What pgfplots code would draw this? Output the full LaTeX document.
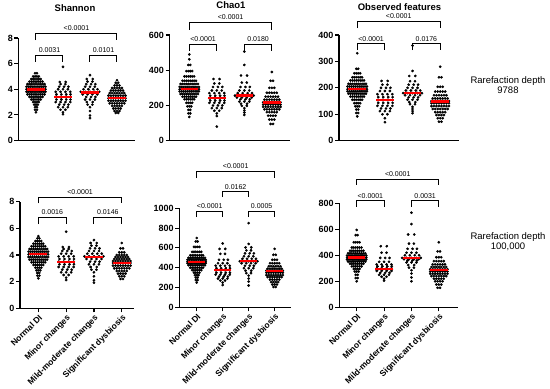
\documentclass[border=0pt]{standalone}
\usepackage{fontspec}
\setmainfont{Liberation Sans}
\usepackage{pgfplots}
\pgfplotsset{compat=1.18}
\tikzset{plab/.style={font=\fontsize{7}{8}\selectfont, anchor=south, inner sep=2.5pt}}
\pgfplotsset{
  panel/.style={
    scale only axis, axis lines=left, axis line style={-, line width=1.1pt, black},
    tick style={black, line width=1.1pt}, major tick length=4pt, tick align=outside,
    ymin=0, clip=false, clip marker paths=true, xtick=\empty,
    yticklabel style={font=\bfseries\fontsize{9}{10}\selectfont, inner sep=1.5pt},
    /pgf/number format/assume math mode=true,
    /pgf/number format/1000 sep={},
  },
  bottomrow/.style={
    xtick={0,1,2,3},
    xticklabels={Normal DI, Minor changes, Mild-moderate changes, Significant dysbiosis},
    xticklabel style={rotate=45, anchor=north east, inner sep=1pt, font=\bfseries\fontsize{8.5}{10}\selectfont},
  },
  dots/.style={only marks, mark=*, mark size=1.15pt, mark options={draw=none, fill=black}},
  med/.style={red, line width=2.3pt},
  brk/.style={black, line width=1pt},
}
\begin{document}
\begin{tikzpicture}
\path[use as bounding box] (0,0) rectangle (550pt,389pt);
% titles
\node[anchor=base, font=\bfseries\fontsize{9.5}{11}\selectfont] at (75pt,377.5pt) {Shannon};
\node[anchor=base, font=\bfseries\fontsize{9.5}{11}\selectfont] at (231pt,380.7pt) {Chao1};
\node[anchor=base, font=\bfseries\fontsize{9.5}{11}\selectfont] at (399.5pt,378.3pt) {Observed features};
\node[anchor=base, font=\fontsize{9.5}{11}\selectfont] at (508pt,305.5pt) {Rarefaction depth};
\node[anchor=base, font=\fontsize{9.5}{11}\selectfont] at (508pt,295pt) {9788};
\node[anchor=base, font=\fontsize{9.5}{11}\selectfont] at (508pt,149pt) {Rarefaction depth};
\node[anchor=base, font=\fontsize{9.5}{11}\selectfont] at (508pt,139pt) {100,000};

%================ T1 Shannon top
\begin{axis}[panel, at={(18.5pt,248.5pt)}, anchor=south west, width=116.5pt, height=102.5pt,
  xmin=-0.648, xmax=3.667, ymax=8, ytick={0,2,4,6,8}]
\addplot[dots] coordinates {
(0,2.2)
(-0.035,2.4) (0.035,2.4)
(-0.035,2.6) (0.035,2.6)
(-0.07,2.8) (0,2.8) (0.07,2.8)
(-0.105,3) (-0.035,3) (0.035,3) (0.105,3)
(-0.175,3.2) (-0.105,3.2) (-0.035,3.2) (0.035,3.2) (0.105,3.2) (0.175,3.2)
(-0.245,3.4) (-0.175,3.4) (-0.105,3.4) (-0.035,3.4) (0.035,3.4) (0.105,3.4) (0.175,3.4) (0.245,3.4)
(-0.315,3.6) (-0.245,3.6) (-0.175,3.6) (-0.105,3.6) (-0.035,3.6) (0.035,3.6) (0.105,3.6) (0.175,3.6) (0.245,3.6) (0.315,3.6)
(-0.35,3.8) (-0.28,3.8) (-0.21,3.8) (-0.14,3.8) (-0.07,3.8) (0,3.8) (0.07,3.8) (0.14,3.8) (0.21,3.8) (0.28,3.8) (0.35,3.8)
(-0.35,4) (-0.28,4) (-0.21,4) (-0.14,4) (-0.07,4) (0,4) (0.07,4) (0.14,4) (0.21,4) (0.28,4) (0.35,4)
(-0.35,4.2) (-0.28,4.2) (-0.21,4.2) (-0.14,4.2) (-0.07,4.2) (0,4.2) (0.07,4.2) (0.14,4.2) (0.21,4.2) (0.28,4.2) (0.35,4.2)
(-0.315,4.4) (-0.245,4.4) (-0.175,4.4) (-0.105,4.4) (-0.035,4.4) (0.035,4.4) (0.105,4.4) (0.175,4.4) (0.245,4.4) (0.315,4.4)
(-0.245,4.6) (-0.175,4.6) (-0.105,4.6) (-0.035,4.6) (0.035,4.6) (0.105,4.6) (0.175,4.6) (0.245,4.6)
(-0.175,4.8) (-0.105,4.8) (-0.035,4.8) (0.035,4.8) (0.105,4.8) (0.175,4.8)
(-0.105,5) (-0.035,5) (0.035,5) (0.105,5)
(-0.035,5.25) (0.035,5.25)
};
\addplot[dots] coordinates {
(1,2.05) (1,2.2)
(0.91,2.4) (1.09,2.4)
(0.82,2.6) (1,2.6) (1.18,2.6)
(0.86,2.8) (1.04,2.8) (1.2,2.8)
(0.73,3) (0.91,3) (1.09,3) (1.27,3)
(0.76,3.2) (0.94,3.2) (1.12,3.2) (1.28,3.2)
(0.73,3.4) (0.91,3.4) (1.09,3.4) (1.27,3.4)
(0.76,3.6) (0.94,3.6) (1.12,3.6) (1.28,3.6)
(0.73,3.8) (0.91,3.8) (1.09,3.8) (1.27,3.8)
(0.82,4) (1,4) (1.18,4)
(0.86,4.2) (1.04,4.2) (1.2,4.2)
(0.91,4.4) (1.09,4.4)
(0.88,4.57) (1.1,4.57)
(1,5.75)
};
\addplot[dots] coordinates {
(2,1.75) (2,1.95) (2,2.3) (2,2.6)
(1.91,2.8) (2.09,2.8)
(1.88,3) (2.1,3)
(1.82,3.2) (2,3.2) (2.18,3.2)
(1.86,3.4) (2.04,3.4) (2.2,3.4)
(1.73,3.6) (1.91,3.6) (2.09,3.6) (2.27,3.6)
(1.66,3.8) (1.82,3.8) (2,3.8) (2.18,3.8) (2.34,3.8)
(1.76,4) (1.94,4) (2.12,4) (2.28,4)
(1.82,4.2) (2,4.2) (2.18,4.2)
(1.86,4.4) (2.04,4.4) (2.2,4.4)
(1.91,4.6) (2.09,4.6)
(1.88,4.8) (2.1,4.8)
(2,5.1)
};
\addplot[dots] coordinates {
(2.955,2.15) (3.045,2.15)
(2.91,2.3) (3,2.3) (3.09,2.3)
(2.865,2.5) (2.955,2.5) (3.045,2.5) (3.135,2.5)
(2.82,2.7) (2.91,2.7) (3,2.7) (3.09,2.7) (3.18,2.7)
(2.73,2.9) (2.82,2.9) (2.91,2.9) (3,2.9) (3.09,2.9) (3.18,2.9) (3.27,2.9)
(2.685,3.1) (2.775,3.1) (2.865,3.1) (2.955,3.1) (3.045,3.1) (3.135,3.1) (3.225,3.1) (3.315,3.1)
(2.685,3.3) (2.775,3.3) (2.865,3.3) (2.955,3.3) (3.045,3.3) (3.135,3.3) (3.225,3.3) (3.315,3.3)
(2.685,3.5) (2.775,3.5) (2.865,3.5) (2.955,3.5) (3.045,3.5) (3.135,3.5) (3.225,3.5) (3.315,3.5)
(2.73,3.7) (2.82,3.7) (2.91,3.7) (3,3.7) (3.09,3.7) (3.18,3.7) (3.27,3.7)
(2.775,3.9) (2.865,3.9) (2.955,3.9) (3.045,3.9) (3.135,3.9) (3.225,3.9)
(2.82,4.1) (2.91,4.1) (3,4.1) (3.09,4.1) (3.18,4.1)
(2.91,4.3) (3,4.3) (3.09,4.3)
(2.955,4.5) (3.045,4.5)
(3,4.7)
};
\addplot[med] coordinates {(-0.32,3.98) (0.32,3.98)};
\addplot[med] coordinates {(0.68,3.40) (1.32,3.40)};
\addplot[med] coordinates {(1.68,3.74) (2.32,3.74)};
\addplot[med] coordinates {(2.68,3.32) (3.32,3.32)};
\addplot[brk] coordinates {(0,6.14) (0,6.67) (1,6.67) (1,6.14)};
\addplot[brk] coordinates {(2,6.14) (2,6.67) (3,6.67) (3,6.14)};
\addplot[brk] coordinates {(0,7.84) (0,8.37) (3,8.37) (3,7.84)};
\node[plab] at (axis cs:0.5,6.67) {0.0031};
\node[plab] at (axis cs:2.5,6.67) {0.0101};
\node[plab] at (axis cs:1.5,8.37) {<0.0001};
\end{axis}

%================ T2 Chao1 top
\begin{axis}[panel, at={(169.5pt,248.3pt)}, anchor=south west, width=120.5pt, height=105.7pt,
  xmin=-0.72, xmax=3.66, ymax=600, ytick={0,200,400,600}]
\addplot[dots] coordinates {
(0,135)
(-0.035,155) (0.035,155)
(-0.035,175) (0.035,175)
(-0.07,195) (0,195) (0.07,195)
(-0.105,215) (-0.035,215) (0.035,215) (0.105,215)
(-0.175,235) (-0.105,235) (-0.035,235) (0.035,235) (0.105,235) (0.175,235)
(-0.245,250) (-0.175,250) (-0.105,250) (-0.035,250) (0.035,250) (0.105,250) (0.175,250) (0.245,250)
(-0.315,265) (-0.245,265) (-0.175,265) (-0.105,265) (-0.035,265) (0.035,265) (0.105,265) (0.175,265) (0.245,265) (0.315,265)
(-0.35,280) (-0.28,280) (-0.21,280) (-0.14,280) (-0.07,280) (0,280) (0.07,280) (0.14,280) (0.21,280) (0.28,280) (0.35,280)
(-0.35,292) (-0.28,292) (-0.21,292) (-0.14,292) (-0.07,292) (0,292) (0.07,292) (0.14,292) (0.21,292) (0.28,292) (0.35,292)
(-0.35,305) (-0.28,305) (-0.21,305) (-0.14,305) (-0.07,305) (0,305) (0.07,305) (0.14,305) (0.21,305) (0.28,305) (0.35,305)
(-0.315,322) (-0.245,322) (-0.175,322) (-0.105,322) (-0.035,322) (0.035,322) (0.105,322) (0.175,322) (0.245,322) (0.315,322)
(-0.245,340) (-0.175,340) (-0.105,340) (-0.035,340) (0.035,340) (0.105,340) (0.175,340) (0.245,340)
(-0.175,365) (-0.105,365) (-0.035,365) (0.035,365) (0.105,365) (0.175,365)
(-0.105,395) (-0.035,395) (0.035,395) (0.105,395)
(-0.035,430) (0.035,430)
(0,462) (0,490)
};
\addplot[dots] coordinates {
(1,140) (1,155)
(0.91,170) (1.09,170)
(0.82,185) (1,185) (1.18,185)
(0.86,200) (1.04,200) (1.2,200)
(0.73,215) (0.91,215) (1.09,215) (1.27,215)
(0.76,228) (0.94,228) (1.12,228) (1.28,228)
(0.73,241) (0.91,241) (1.09,241) (1.27,241)
(0.76,255) (0.94,255) (1.12,255) (1.28,255)
(0.73,270) (0.91,270) (1.09,270) (1.27,270)
(0.82,285) (1,285) (1.18,285)
(0.86,305) (1.04,305) (1.2,305)
(0.91,325) (1.09,325)
(0.88,350) (1.1,350)
(1,80)
};
\addplot[dots] coordinates {
(2,146) (2,160) (2,172) (2,185)
(1.91,198) (2.09,198)
(1.88,210) (2.1,210)
(1.82,222) (2,222) (2.18,222)
(1.86,235) (2.04,235) (2.2,235)
(1.73,245) (1.91,245) (2.09,245) (2.27,245)
(1.66,256) (1.82,256) (2,256) (2.18,256) (2.34,256)
(1.76,270) (1.94,270) (2.12,270) (2.28,270)
(1.82,285) (2,285) (2.18,285)
(1.86,305) (2.04,305) (2.2,305)
(1.91,330) (2.09,330)
(1.88,370) (2.1,370)
(2,430) (2,506)
};
\addplot[dots] coordinates {
(2.955,95) (3.045,95)
(2.91,120) (3,120) (3.09,120)
(2.865,142) (2.955,142) (3.045,142) (3.135,142)
(2.82,162) (2.91,162) (3,162) (3.09,162) (3.18,162)
(2.73,178) (2.82,178) (2.91,178) (3,178) (3.09,178) (3.18,178) (3.27,178)
(2.685,192) (2.775,192) (2.865,192) (2.955,192) (3.045,192) (3.135,192) (3.225,192) (3.315,192)
(2.685,205) (2.775,205) (2.865,205) (2.955,205) (3.045,205) (3.135,205) (3.225,205) (3.315,205)
(2.685,218) (2.775,218) (2.865,218) (2.955,218) (3.045,218) (3.135,218) (3.225,218) (3.315,218)
(2.73,233) (2.82,233) (2.91,233) (3,233) (3.09,233) (3.18,233) (3.27,233)
(2.775,250) (2.865,250) (2.955,250) (3.045,250) (3.135,250) (3.225,250)
(2.82,272) (2.91,272) (3,272) (3.09,272) (3.18,272)
(2.91,300) (3,300) (3.09,300)
(2.955,340) (3.045,340)
(3,390)
};
\addplot[med] coordinates {(-0.32,292) (0.32,292)};
\addplot[med] coordinates {(0.68,241) (1.32,241)};
\addplot[med] coordinates {(1.68,256) (2.32,256)};
\addplot[med] coordinates {(2.68,216) (3.32,216)};
\addplot[brk] coordinates {(0,510) (0,548) (1,548) (1,510)};
\addplot[brk] coordinates {(2,510) (2,548) (3,548) (3,510)};
\addplot[brk] coordinates {(0,629) (0,670) (3,670) (3,629)};
\node[plab] at (axis cs:0.5,548) {<0.0001};
\node[plab] at (axis cs:2.5,548) {0.0180};
\node[plab] at (axis cs:1.5,670) {<0.0001};
\end{axis}

%================ T3 Observed top
\begin{axis}[panel, at={(339pt,248.3pt)}, anchor=south west, width=120pt, height=105.7pt,
  xmin=-0.66, xmax=3.68, ymax=400, ytick={0,100,200,300,400}]
\addplot[dots] coordinates {
(0,92)
(-0.035,105) (0.035,105)
(-0.035,118) (0.035,118)
(-0.07,130) (0,130) (0.07,130)
(-0.105,142) (-0.035,142) (0.035,142) (0.105,142)
(-0.175,155) (-0.105,155) (-0.035,155) (0.035,155) (0.105,155) (0.175,155)
(-0.245,167) (-0.175,167) (-0.105,167) (-0.035,167) (0.035,167) (0.105,167) (0.175,167) (0.245,167)
(-0.315,178) (-0.245,178) (-0.175,178) (-0.105,178) (-0.035,178) (0.035,178) (0.105,178) (0.175,178) (0.245,178) (0.315,178)
(-0.35,187) (-0.28,187) (-0.21,187) (-0.14,187) (-0.07,187) (0,187) (0.07,187) (0.14,187) (0.21,187) (0.28,187) (0.35,187)
(-0.35,195) (-0.28,195) (-0.21,195) (-0.14,195) (-0.07,195) (0,195) (0.07,195) (0.14,195) (0.21,195) (0.28,195) (0.35,195)
(-0.35,205) (-0.28,205) (-0.21,205) (-0.14,205) (-0.07,205) (0,205) (0.07,205) (0.14,205) (0.21,205) (0.28,205) (0.35,205)
(-0.315,215) (-0.245,215) (-0.175,215) (-0.105,215) (-0.035,215) (0.035,215) (0.105,215) (0.175,215) (0.245,215) (0.315,215)
(-0.245,228) (-0.175,228) (-0.105,228) (-0.035,228) (0.035,228) (0.105,228) (0.175,228) (0.245,228)
(-0.175,240) (-0.105,240) (-0.035,240) (0.035,240) (0.105,240) (0.175,240)
(-0.105,255) (-0.035,255) (0.035,255) (0.105,255)
(-0.035,272) (0.035,272)
(0,331)
};
\addplot[dots] coordinates {
(1,70) (1,85)
(0.91,100) (1.09,100)
(0.82,112) (1,112) (1.18,112)
(0.86,122) (1.04,122) (1.2,122)
(0.73,132) (0.91,132) (1.09,132) (1.27,132)
(0.76,143) (0.94,143) (1.12,143) (1.28,143)
(0.73,154) (0.91,154) (1.09,154) (1.27,154)
(0.76,165) (0.94,165) (1.12,165) (1.28,165)
(0.73,176) (0.91,176) (1.09,176) (1.27,176)
(0.82,188) (1,188) (1.18,188)
(0.86,200) (1.04,200) (1.2,200)
(0.91,212) (1.09,212)
(0.88,226) (1.1,226)
};
\addplot[dots] coordinates {
(2,104) (2,112) (2,120) (2,128)
(1.91,138) (2.09,138)
(1.88,146) (2.1,146)
(1.82,155) (2,155) (2.18,155)
(1.86,164) (2.04,164) (2.2,164)
(1.73,172) (1.91,172) (2.09,172) (2.27,172)
(1.66,180) (1.82,180) (2,180) (2.18,180) (2.34,180)
(1.76,190) (1.94,190) (2.12,190) (2.28,190)
(1.82,200) (2,200) (2.18,200)
(1.86,212) (2.04,212) (2.2,212)
(1.91,225) (2.09,225)
(1.88,245) (2.1,245)
(2,264) (2,360)
};
\addplot[dots] coordinates {
(2.955,72) (3.045,72)
(2.91,85) (3,85) (3.09,85)
(2.865,97) (2.955,97) (3.045,97) (3.135,97)
(2.82,108) (2.91,108) (3,108) (3.09,108) (3.18,108)
(2.73,120) (2.82,120) (2.91,120) (3,120) (3.09,120) (3.18,120) (3.27,120)
(2.685,131) (2.775,131) (2.865,131) (2.955,131) (3.045,131) (3.135,131) (3.225,131) (3.315,131)
(2.685,142) (2.775,142) (2.865,142) (2.955,142) (3.045,142) (3.135,142) (3.225,142) (3.315,142)
(2.685,150) (2.775,150) (2.865,150) (2.955,150) (3.045,150) (3.135,150) (3.225,150) (3.315,150)
(2.73,160) (2.82,160) (2.91,160) (3,160) (3.09,160) (3.18,160) (3.27,160)
(2.775,172) (2.865,172) (2.955,172) (3.045,172) (3.135,172) (3.225,172)
(2.82,186) (2.91,186) (3,186) (3.09,186) (3.18,186)
(2.91,204) (3,204) (3.09,204)
(2.955,240) (3.045,240)
(3,280)
};
\addplot[med] coordinates {(-0.32,195) (0.32,195)};
\addplot[med] coordinates {(0.68,154) (1.32,154)};
\addplot[med] coordinates {(1.68,180) (2.32,180)};
\addplot[med] coordinates {(2.68,148) (3.32,148)};
\addplot[brk] coordinates {(0,343) (0,366) (1,366) (1,343)};
\addplot[brk] coordinates {(2,343) (2,366) (3,366) (3,343)};
\addplot[brk] coordinates {(0,426) (0,451) (3,451) (3,426)};
\node[plab] at (axis cs:0.5,366) {<0.0001};
\node[plab] at (axis cs:2.5,366) {0.0176};
\node[plab] at (axis cs:1.5,451) {<0.0001};
\end{axis}

%================ B1 Shannon bottom
\begin{axis}[panel, bottomrow, at={(20pt,80.7pt)}, anchor=south west, width=114pt, height=106.6pt,
  xmin=-0.66, xmax=3.44, ymax=8, ytick={0,2,4,6,8}]
\addplot[dots] coordinates {
(0,2.25)
(-0.035,2.45) (0.035,2.45)
(-0.035,2.65) (0.035,2.65)
(-0.07,2.85) (0,2.85) (0.07,2.85)
(-0.105,3.05) (-0.035,3.05) (0.035,3.05) (0.105,3.05)
(-0.175,3.25) (-0.105,3.25) (-0.035,3.25) (0.035,3.25) (0.105,3.25) (0.175,3.25)
(-0.245,3.45) (-0.175,3.45) (-0.105,3.45) (-0.035,3.45) (0.035,3.45) (0.105,3.45) (0.175,3.45) (0.245,3.45)
(-0.315,3.65) (-0.245,3.65) (-0.175,3.65) (-0.105,3.65) (-0.035,3.65) (0.035,3.65) (0.105,3.65) (0.175,3.65) (0.245,3.65) (0.315,3.65)
(-0.35,3.85) (-0.28,3.85) (-0.21,3.85) (-0.14,3.85) (-0.07,3.85) (0,3.85) (0.07,3.85) (0.14,3.85) (0.21,3.85) (0.28,3.85) (0.35,3.85)
(-0.35,4.05) (-0.28,4.05) (-0.21,4.05) (-0.14,4.05) (-0.07,4.05) (0,4.05) (0.07,4.05) (0.14,4.05) (0.21,4.05) (0.28,4.05) (0.35,4.05)
(-0.35,4.25) (-0.28,4.25) (-0.21,4.25) (-0.14,4.25) (-0.07,4.25) (0,4.25) (0.07,4.25) (0.14,4.25) (0.21,4.25) (0.28,4.25) (0.35,4.25)
(-0.315,4.45) (-0.245,4.45) (-0.175,4.45) (-0.105,4.45) (-0.035,4.45) (0.035,4.45) (0.105,4.45) (0.175,4.45) (0.245,4.45) (0.315,4.45)
(-0.245,4.65) (-0.175,4.65) (-0.105,4.65) (-0.035,4.65) (0.035,4.65) (0.105,4.65) (0.175,4.65) (0.245,4.65)
(-0.175,4.85) (-0.105,4.85) (-0.035,4.85) (0.035,4.85) (0.105,4.85) (0.175,4.85)
(-0.105,5.05) (-0.035,5.05) (0.035,5.05) (0.105,5.05)
(-0.035,5.25) (0.035,5.25)
(0,5.42)
};
\addplot[dots] coordinates {
(1,2.12) (1,2.3)
(0.91,2.5) (1.09,2.5)
(0.82,2.7) (1,2.7) (1.18,2.7)
(0.86,2.9) (1.04,2.9) (1.2,2.9)
(0.73,3.1) (0.91,3.1) (1.09,3.1) (1.27,3.1)
(0.76,3.3) (0.94,3.3) (1.12,3.3) (1.28,3.3)
(0.73,3.5) (0.91,3.5) (1.09,3.5) (1.27,3.5)
(0.76,3.7) (0.94,3.7) (1.12,3.7) (1.28,3.7)
(0.73,3.9) (0.91,3.9) (1.09,3.9) (1.27,3.9)
(0.82,4.1) (1,4.1) (1.18,4.1)
(0.86,4.3) (1.04,4.3) (1.2,4.3)
(0.91,4.45) (1.09,4.45)
(0.88,4.6) (1.1,4.6)
(1,5.75)
};
\addplot[dots] coordinates {
(2,1.92) (2,2.1) (2,2.4) (2,2.7)
(1.91,2.9) (2.09,2.9)
(1.88,3.1) (2.1,3.1)
(1.82,3.3) (2,3.3) (2.18,3.3)
(1.86,3.5) (2.04,3.5) (2.2,3.5)
(1.73,3.7) (1.91,3.7) (2.09,3.7) (2.27,3.7)
(1.66,3.9) (1.82,3.9) (2,3.9) (2.18,3.9) (2.34,3.9)
(1.76,4.1) (1.94,4.1) (2.12,4.1) (2.28,4.1)
(1.82,4.3) (2,4.3) (2.18,4.3)
(1.86,4.5) (2.04,4.5) (2.2,4.5)
(1.91,4.7) (2.09,4.7)
(1.88,4.9) (2.1,4.9)
(2,5.12)
};
\addplot[dots] coordinates {
(2.955,2.2) (3.045,2.2)
(2.91,2.4) (3,2.4) (3.09,2.4)
(2.865,2.6) (2.955,2.6) (3.045,2.6) (3.135,2.6)
(2.82,2.8) (2.91,2.8) (3,2.8) (3.09,2.8) (3.18,2.8)
(2.73,3) (2.82,3) (2.91,3) (3,3) (3.09,3) (3.18,3) (3.27,3)
(2.685,3.2) (2.775,3.2) (2.865,3.2) (2.955,3.2) (3.045,3.2) (3.135,3.2) (3.225,3.2) (3.315,3.2)
(2.685,3.4) (2.775,3.4) (2.865,3.4) (2.955,3.4) (3.045,3.4) (3.135,3.4) (3.225,3.4) (3.315,3.4)
(2.685,3.55) (2.775,3.55) (2.865,3.55) (2.955,3.55) (3.045,3.55) (3.135,3.55) (3.225,3.55) (3.315,3.55)
(2.73,3.7) (2.82,3.7) (2.91,3.7) (3,3.7) (3.09,3.7) (3.18,3.7) (3.27,3.7)
(2.775,3.85) (2.865,3.85) (2.955,3.85) (3.045,3.85) (3.135,3.85) (3.225,3.85)
(2.82,4) (2.91,4) (3,4) (3.09,4) (3.18,4)
(2.91,4.2) (3,4.2) (3.09,4.2)
(2.955,4.5) (3.045,4.5)
(3,4.9)
};
\addplot[med] coordinates {(-0.32,4.07) (0.32,4.07)};
\addplot[med] coordinates {(0.68,3.50) (1.32,3.50)};
\addplot[med] coordinates {(1.68,3.87) (2.32,3.87)};
\addplot[med] coordinates {(2.68,3.42) (3.32,3.42)};
\addplot[brk] coordinates {(0,6.32) (0,6.83) (1,6.83) (1,6.32)};
\addplot[brk] coordinates {(2,6.32) (2,6.83) (3,6.83) (3,6.32)};
\addplot[brk] coordinates {(0,7.88) (0,8.33) (3,8.33) (3,7.88)};
\node[plab] at (axis cs:0.5,6.83) {0.0016};
\node[plab] at (axis cs:2.5,6.83) {0.0146};
\node[plab] at (axis cs:1.5,8.33) {<0.0001};
\end{axis}

%================ B2 Chao1 bottom
\begin{axis}[panel, bottomrow, at={(179.3pt,81.7pt)}, anchor=south west, width=111.7pt, height=99pt,
  xmin=-0.67, xmax=3.63, ymax=1000, ytick={0,200,400,600,800,1000}]
\addplot[dots] coordinates {
(0,250)
(-0.035,275) (0.035,275)
(-0.035,300) (0.035,300)
(-0.07,325) (0,325) (0.07,325)
(-0.105,350) (-0.035,350) (0.035,350) (0.105,350)
(-0.175,375) (-0.105,375) (-0.035,375) (0.035,375) (0.105,375) (0.175,375)
(-0.245,400) (-0.175,400) (-0.105,400) (-0.035,400) (0.035,400) (0.105,400) (0.175,400) (0.245,400)
(-0.315,425) (-0.245,425) (-0.175,425) (-0.105,425) (-0.035,425) (0.035,425) (0.105,425) (0.175,425) (0.245,425) (0.315,425)
(-0.35,445) (-0.28,445) (-0.21,445) (-0.14,445) (-0.07,445) (0,445) (0.07,445) (0.14,445) (0.21,445) (0.28,445) (0.35,445)
(-0.35,460) (-0.28,460) (-0.21,460) (-0.14,460) (-0.07,460) (0,460) (0.07,460) (0.14,460) (0.21,460) (0.28,460) (0.35,460)
(-0.35,480) (-0.28,480) (-0.21,480) (-0.14,480) (-0.07,480) (0,480) (0.07,480) (0.14,480) (0.21,480) (0.28,480) (0.35,480)
(-0.315,500) (-0.245,500) (-0.175,500) (-0.105,500) (-0.035,500) (0.035,500) (0.105,500) (0.175,500) (0.245,500) (0.315,500)
(-0.245,525) (-0.175,525) (-0.105,525) (-0.035,525) (0.035,525) (0.105,525) (0.175,525) (0.245,525)
(-0.175,560) (-0.105,560) (-0.035,560) (0.035,560) (0.105,560) (0.175,560)
(-0.105,610) (-0.035,610) (0.035,610) (0.105,610)
(-0.035,665) (0.035,665)
(0,700)
};
\addplot[dots] coordinates {
(1,225) (1,250)
(0.91,270) (1.09,270)
(0.82,290) (1,290) (1.18,290)
(0.86,310) (1.04,310) (1.2,310)
(0.73,330) (0.91,330) (1.09,330) (1.27,330)
(0.76,350) (0.94,350) (1.12,350) (1.28,350)
(0.73,375) (0.91,375) (1.09,375) (1.27,375)
(0.76,395) (0.94,395) (1.12,395) (1.28,395)
(0.73,420) (0.91,420) (1.09,420) (1.27,420)
(0.82,445) (1,445) (1.18,445)
(0.86,480) (1.04,480) (1.2,480)
(0.91,540) (1.09,540)
(0.88,590) (1.1,590)
(1,645)
};
\addplot[dots] coordinates {
(2,220) (2,260) (2,290) (2,320)
(1.91,345) (2.09,345)
(1.88,370) (2.1,370)
(1.82,395) (2,395) (2.18,395)
(1.86,420) (2.04,420) (2.2,420)
(1.73,445) (1.91,445) (2.09,445) (2.27,445)
(1.66,465) (1.82,465) (2,465) (2.18,465) (2.34,465)
(1.76,490) (1.94,490) (2.12,490) (2.28,490)
(1.82,515) (2,515) (2.18,515)
(1.86,545) (2.04,545) (2.2,545)
(1.91,575) (2.09,575)
(1.88,605) (2.1,605)
(2,640) (2,850)
};
\addplot[dots] coordinates {
(2.955,205) (3.045,205)
(2.91,230) (3,230) (3.09,230)
(2.865,255) (2.955,255) (3.045,255) (3.135,255)
(2.82,280) (2.91,280) (3,280) (3.09,280) (3.18,280)
(2.73,305) (2.82,305) (2.91,305) (3,305) (3.09,305) (3.18,305) (3.27,305)
(2.685,325) (2.775,325) (2.865,325) (2.955,325) (3.045,325) (3.135,325) (3.225,325) (3.315,325)
(2.685,350) (2.775,350) (2.865,350) (2.955,350) (3.045,350) (3.135,350) (3.225,350) (3.315,350)
(2.685,370) (2.775,370) (2.865,370) (2.955,370) (3.045,370) (3.135,370) (3.225,370) (3.315,370)
(2.73,390) (2.82,390) (2.91,390) (3,390) (3.09,390) (3.18,390) (3.27,390)
(2.775,415) (2.865,415) (2.955,415) (3.045,415) (3.135,415) (3.225,415)
(2.82,445) (2.91,445) (3,445) (3.09,445) (3.18,445)
(2.91,480) (3,480) (3.09,480)
(2.955,530) (3.045,530)
(3,590)
};
\addplot[med] coordinates {(-0.32,460) (0.32,460)};
\addplot[med] coordinates {(0.68,375) (1.32,375)};
\addplot[med] coordinates {(1.68,465) (2.32,465)};
\addplot[med] coordinates {(2.68,365) (3.32,365)};
\addplot[brk] coordinates {(0,912) (0,966) (1,966) (1,912)};
\addplot[brk] coordinates {(2,912) (2,966) (3,966) (3,912)};
\addplot[brk] coordinates {(1,1114) (1,1165) (2,1165) (2,1114)};
\addplot[brk] coordinates {(0,1306) (0,1370) (3,1370) (3,1306)};
\node[plab] at (axis cs:0.5,966) {<0.0001};
\node[plab] at (axis cs:2.5,966) {0.0005};
\node[plab] at (axis cs:1.5,1165) {0.0162};
\node[plab] at (axis cs:1.5,1370) {<0.0001};
\end{axis}

%================ B3 Observed bottom
\begin{axis}[panel, bottomrow, at={(339.3pt,81.7pt)}, anchor=south west, width=118.7pt, height=104pt,
  xmin=-0.635, xmax=3.70, ymax=800, ytick={0,200,400,600,800}]
\addplot[dots] coordinates {
(0,200)
(-0.035,225) (0.035,225)
(-0.035,250) (0.035,250)
(-0.07,275) (0,275) (0.07,275)
(-0.105,295) (-0.035,295) (0.035,295) (0.105,295)
(-0.175,315) (-0.105,315) (-0.035,315) (0.035,315) (0.105,315) (0.175,315)
(-0.245,335) (-0.175,335) (-0.105,335) (-0.035,335) (0.035,335) (0.105,335) (0.175,335) (0.245,335)
(-0.315,352) (-0.245,352) (-0.175,352) (-0.105,352) (-0.035,352) (0.035,352) (0.105,352) (0.175,352) (0.245,352) (0.315,352)
(-0.35,368) (-0.28,368) (-0.21,368) (-0.14,368) (-0.07,368) (0,368) (0.07,368) (0.14,368) (0.21,368) (0.28,368) (0.35,368)
(-0.35,382) (-0.28,382) (-0.21,382) (-0.14,382) (-0.07,382) (0,382) (0.07,382) (0.14,382) (0.21,382) (0.28,382) (0.35,382)
(-0.35,398) (-0.28,398) (-0.21,398) (-0.14,398) (-0.07,398) (0,398) (0.07,398) (0.14,398) (0.21,398) (0.28,398) (0.35,398)
(-0.315,415) (-0.245,415) (-0.175,415) (-0.105,415) (-0.035,415) (0.035,415) (0.105,415) (0.175,415) (0.245,415) (0.315,415)
(-0.245,435) (-0.175,435) (-0.105,435) (-0.035,435) (0.035,435) (0.105,435) (0.175,435) (0.245,435)
(-0.175,460) (-0.105,460) (-0.035,460) (0.035,460) (0.105,460) (0.175,460)
(-0.105,500) (-0.035,500) (0.035,500) (0.105,500)
(-0.035,555) (0.035,555)
(0,595)
};
\addplot[dots] coordinates {
(1,205) (1,220)
(0.91,235) (1.09,235)
(0.82,250) (1,250) (1.18,250)
(0.86,265) (1.04,265) (1.2,265)
(0.73,280) (0.91,280) (1.09,280) (1.27,280)
(0.76,290) (0.94,290) (1.12,290) (1.28,290)
(0.73,300) (0.91,300) (1.09,300) (1.27,300)
(0.76,315) (0.94,315) (1.12,315) (1.28,315)
(0.73,330) (0.91,330) (1.09,330) (1.27,330)
(0.82,350) (1,350) (1.18,350)
(0.86,380) (1.04,380) (1.2,380)
(0.91,420) (1.09,420)
(0.88,470) (1.1,470)
};
\addplot[dots] coordinates {
(2,200) (2,230) (2,260) (2,285)
(1.91,305) (2.09,305)
(1.88,325) (2.1,325)
(1.82,345) (2,345) (2.18,345)
(1.86,360) (2.04,360) (2.2,360)
(1.73,370) (1.91,370) (2.09,370) (2.27,370)
(1.66,380) (1.82,380) (2,380) (2.18,380) (2.34,380)
(1.76,400) (1.94,400) (2.12,400) (2.28,400)
(1.82,420) (2,420) (2.18,420)
(1.86,450) (2.04,450) (2.2,450)
(1.91,490) (2.09,490)
(1.88,560) (2.1,560)
(2,640) (2,728)
};
\addplot[dots] coordinates {
(2.955,150) (3.045,150)
(2.91,175) (3,175) (3.09,175)
(2.865,200) (2.955,200) (3.045,200) (3.135,200)
(2.82,220) (2.91,220) (3,220) (3.09,220) (3.18,220)
(2.73,240) (2.82,240) (2.91,240) (3,240) (3.09,240) (3.18,240) (3.27,240)
(2.685,258) (2.775,258) (2.865,258) (2.955,258) (3.045,258) (3.135,258) (3.225,258) (3.315,258)
(2.685,275) (2.775,275) (2.865,275) (2.955,275) (3.045,275) (3.135,275) (3.225,275) (3.315,275)
(2.685,292) (2.775,292) (2.865,292) (2.955,292) (3.045,292) (3.135,292) (3.225,292) (3.315,292)
(2.73,310) (2.82,310) (2.91,310) (3,310) (3.09,310) (3.18,310) (3.27,310)
(2.775,330) (2.865,330) (2.955,330) (3.045,330) (3.135,330) (3.225,330)
(2.82,355) (2.91,355) (3,355) (3.09,355) (3.18,355)
(2.91,385) (3,385) (3.09,385)
(2.955,430) (3.045,430)
(3,500)
};
\addplot[med] coordinates {(-0.32,382) (0.32,382)};
\addplot[med] coordinates {(0.68,295) (1.32,295)};
\addplot[med] coordinates {(1.68,377) (2.32,377)};
\addplot[med] coordinates {(2.68,287) (3.32,287)};
\addplot[brk] coordinates {(0,774) (0,818) (1,818) (1,774)};
\addplot[brk] coordinates {(2,774) (2,818) (3,818) (3,774)};
\addplot[brk] coordinates {(0,941) (0,985) (3,985) (3,941)};
\node[plab] at (axis cs:0.5,818) {<0.0001};
\node[plab] at (axis cs:2.5,818) {0.0031};
\node[plab] at (axis cs:1.5,985) {<0.0001};
\end{axis}
\end{tikzpicture}
\end{document}
